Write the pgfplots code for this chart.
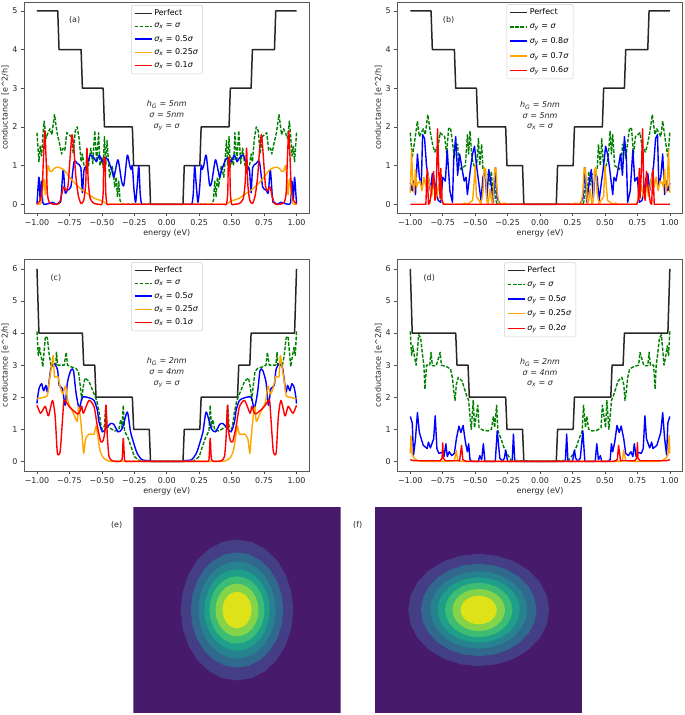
\documentclass[border=0pt]{standalone}
\usepackage{fontspec}
\setmainfont{DejaVu Sans}
\usepackage{pgfplots}
\usepackage{pgfplotstable}
\pgfplotsset{compat=1.18}

\definecolor{v0}{HTML}{481A6C}
\definecolor{v1}{HTML}{433E85}
\definecolor{v2}{HTML}{31688E}
\definecolor{v3}{HTML}{26828E}
\definecolor{v4}{HTML}{1F9E89}
\definecolor{v5}{HTML}{3DBC74}
\definecolor{v6}{HTML}{84D44B}
\definecolor{v7}{HTML}{DDE318}
\definecolor{morange}{HTML}{FFA500}
\definecolor{mgreen}{HTML}{008000}

% half curves, the other side is the mirror image
\pgfplotstableread[row sep=crcr]{x y\\-1 5\\-.84 5\\-.83 4\\-.66 4\\-.65 3\\-.49 3\\-.48 2\\-.265 2\\-.255 1\\-.135 1\\-.125 0\\0 0\\}\pA
\pgfplotstableread[row sep=crcr]{x y\\-1 6\\-.985 4\\-.65 4\\-.64 3\\-.555 3\\-.545 2\\-.265 2\\-.255 1\\-.135 1\\-.125 0\\0 0\\}\pC

\pgfplotstableread[row sep=crcr]{x y\\-1 1.85\\-.985 1.1\\-.975 1.5\\-.965 1.25\\-.955 1.75\\-.945 2.15\\-.93 1.7\\-.915 1.85\\-.9 1.95\\-.885 1.8\\-.865 2.32\\-.845 1.85\\-.825 1.55\\-.81 1.3\\-.8 1.45\\-.785 1.4\\-.77 1.85\\-.755 1.8\\-.735 1.75\\-.72 1.3\\-.705 1.9\\-.69 2\\-.675 1.7\\-.66 1.1\\-.65 1.3\\-.64 1.05\\-.63 .9\\-.615 .85\\-.6 1.05\\-.585 1.45\\-.57 1.05\\-.555 1.9\\-.54 1.1\\-.525 1.85\\-.515 1\\-.5 1.2\\-.49 .95\\-.48 1.75\\-.47 1\\-.46 1.65\\-.45 1.15\\-.44 .7\\-.42 1\\-.4 .45\\-.39 .7\\-.38 .2\\-.37 .6\\-.36 .1\\-.345 0\\-.3 0\\-.28 .01\\-.25 0\\0 0\\}\aG
\pgfplotstableread[row sep=crcr]{x y\\-1 0\\-.985 .7\\-.975 .1\\-.965 .6\\-.955 .05\\-.94 0\\-.91 .02\\-.88 .05\\-.85 0\\-.83 .05\\-.816 .1\\-.798 .9\\-.783 .3\\-.765 .37\\-.739 .45\\-.714 1.1\\-.688 1.05\\-.662 .95\\-.65 .3\\-.637 .9\\-.616 1\\-.59 1.27\\-.56 1.2\\-.542 1.1\\-.52 1.27\\-.496 1.1\\-.476 1.2\\-.453 1.15\\-.42 .85\\-.407 .7\\-.376 1.15\\-.348 .6\\-.33 .5\\-.304 1.27\\-.285 1\\-.274 .9\\-.265 1\\-.253 .4\\-.24 .05\\-.225 .6\\-.215 1\\-.205 .3\\-.195 .02\\-.18 0\\-.16 0\\-.12 0\\-.06 0\\0 0\\}\aB
\pgfplotstableread[row sep=crcr]{x y\\-1 0\\-.97 .02\\-.96 .3\\-.945 .65\\-.935 .25\\-.925 .7\\-.915 1\\-.9 .85\\-.885 .85\\-.87 .92\\-.85 .96\\-.82 .94\\-.79 .88\\-.76 .75\\-.73 .62\\-.7 .52\\-.67 .42\\-.64 .34\\-.6 .25\\-.56 .16\\-.52 .11\\-.49 .08\\-.47 .02\\-.45 0\\-.43 0\\-.39 0\\-.3 0\\-.15 0\\0 0\\}\aO
\pgfplotstableread[row sep=crcr]{x y\\-1 .02\\-.975 .1\\-.96 .4\\-.95 1.2\\-.94 1.9\\-.93 1.2\\-.92 .3\\-.905 .05\\-.87 0\\-.83 .02\\-.81 .25\\-.795 .45\\-.775 .35\\-.76 .5\\-.745 1.2\\-.73 1.8\\-.715 1.4\\-.7 .7\\-.68 .2\\-.66 .02\\-.64 .1\\-.625 .5\\-.615 1.45\\-.605 .6\\-.59 .15\\-.56 .02\\-.52 0\\-.5 0\\-.49 .3\\-.485 1.15\\-.475 1.15\\-.47 .3\\-.46 0\\-.44 0\\-.4 0\\-.3 0\\-.15 0\\0 0\\}\aR

\pgfplotstableread[row sep=crcr]{x y\\-1 1.85\\-.985 1.2\\-.97 1.55\\-.955 1.9\\-.945 2.15\\-.93 1.75\\-.915 1.85\\-.9 1.95\\-.885 1.8\\-.865 2.32\\-.845 1.85\\-.825 1.5\\-.81 1.35\\-.8 1.45\\-.785 1.5\\-.77 1.85\\-.755 1.8\\-.735 1.75\\-.72 1.3\\-.705 1.95\\-.69 1.98\\-.675 1.6\\-.66 1.2\\-.65 1.5\\-.635 1.55\\-.625 1\\-.61 .9\\-.595 .95\\-.575 1\\-.56 1.8\\-.55 1.3\\-.54 1.9\\-.525 1.2\\-.51 1\\-.49 .95\\-.475 1.7\\-.465 1\\-.45 1.55\\-.44 .9\\-.425 .85\\-.41 .8\\-.395 .75\\-.385 .5\\-.375 .85\\-.365 .3\\-.35 .6\\-.34 .1\\-.33 0\\0 0\\}\bG
\pgfplotstableread[row sep=crcr]{x y\\-1 .55\\-.985 .35\\-.975 .6\\-.96 .25\\-.945 1.3\\-.93 .7\\-.915 .5\\-.905 1.8\\-.89 1.7\\-.875 1\\-.86 .7\\-.845 .35\\-.83 .8\\-.815 .65\\-.8 .3\\-.785 .1\\-.765 .05\\-.75 .7\\-.73 .6\\-.715 1.4\\-.695 .35\\-.675 .05\\-.665 1.2\\-.65 1.75\\-.635 .75\\-.62 1.3\\-.6 .9\\-.585 .6\\-.57 .7\\-.56 .25\\-.535 .95\\-.52 1.3\\-.505 1.5\\-.49 1\\-.47 .5\\-.455 .1\\-.44 .7\\-.425 .85\\-.41 .15\\-.395 .9\\-.38 .6\\-.36 .05\\-.345 .95\\-.33 .15\\-.31 .02\\-.29 0\\0 0\\}\bB
\pgfplotstableread[row sep=crcr]{x y\\-1 .3\\-.99 1.4\\-.98 .5\\-.97 .3\\-.96 .9\\-.95 .45\\-.94 .55\\-.925 .6\\-.91 .35\\-.895 .7\\-.88 .45\\-.87 .85\\-.85 .5\\-.835 .2\\-.82 .6\\-.8 .15\\-.78 .5\\-.765 .15\\-.75 .05\\-.74 0\\-.6 0\\-.58 .03\\-.56 0\\-.52 .1\\-.51 .5\\-.5 1\\-.49 .2\\-.47 .1\\-.455 0\\-.44 .3\\-.43 .95\\-.42 .9\\-.41 .1\\-.4 0\\-.385 .4\\-.375 .1\\-.365 0\\-.35 .9\\-.34 .95\\-.33 .3\\-.315 0\\-.27 .03\\-.25 0\\0 0\\}\bO
\pgfplotstableread[row sep=crcr]{x y\\-1 0\\-.88 0\\-.87 .9\\-.86 0\\-.85 .03\\-.83 .5\\-.82 .85\\-.81 .1\\-.8 .3\\-.79 1.95\\-.78 .8\\-.77 .15\\-.765 .93\\-.755 .1\\-.745 0\\0 0\\}\bR

\pgfplotstableread[row sep=crcr]{x y\\-1 4.05\\-.99 3.3\\-.98 3.55\\-.965 3.2\\-.955 2.95\\-.935 3.9\\-.92 3.85\\-.905 3.3\\-.89 2.95\\-.875 3\\-.865 3.05\\-.855 3\\-.85 3.4\\-.84 3\\-.82 3\\-.79 3\\-.775 3.4\\-.765 3\\-.74 2.95\\-.7 2.9\\-.68 2.8\\-.665 2.3\\-.655 1.9\\-.645 2.3\\-.63 2.6\\-.6 2.5\\-.57 2.2\\-.54 1.9\\-.52 1.5\\-.51 1.2\\-.5 1\\-.48 1.1\\-.47 1.75\\-.46 1.1\\-.445 1.05\\-.4 .95\\-.37 .97\\-.355 1.3\\-.345 1.05\\-.335 1.75\\-.325 .95\\-.3 .75\\-.27 .4\\-.25 .15\\-.22 .05\\-.2 0\\0 0\\}\cG
\pgfplotstableread[row sep=crcr]{x y\\-1 1.8\\-.995 2\\-.982 2.3\\-.964 2.42\\-.949 2.2\\-.931 2.37\\-.918 2.16\\-.893 2.9\\-.867 3.05\\-.841 2.84\\-.829 2.37\\-.803 2.27\\-.783 1.75\\-.765 2.47\\-.739 2.84\\-.719 2.84\\-.7 2.16\\-.675 1.65\\-.65 2\\-.598 1.98\\-.56 1.9\\-.535 1.6\\-.522 1.23\\-.496 .92\\-.47 1.02\\-.432 1.18\\-.407 1.15\\-.376 .92\\-.343 1.02\\-.304 1.54\\-.279 .92\\-.253 .55\\-.228 .25\\-.19 .05\\-.13 .02\\-.11 0\\-.08 0\\-.04 0\\0 0\\}\cB
\pgfplotstableread[row sep=crcr]{x y\\-1 1.95\\-.95 2\\-.92 2.05\\-.905 2.5\\-.89 2.9\\-.875 3.3\\-.865 2.65\\-.84 2.65\\-.82 2.3\\-.8 2.1\\-.78 2.35\\-.76 1.85\\-.72 1.5\\-.69 1.25\\-.68 1.7\\-.665 1.35\\-.65 .7\\-.64 .25\\-.625 .7\\-.6 .85\\-.56 .85\\-.545 1.1\\-.53 .75\\-.515 .35\\-.49 .12\\-.46 .03\\-.43 0\\-.4 0\\-.32 0\\-.16 0\\0 0\\}\cO
\pgfplotstableread[row sep=crcr]{x y\\-1 1.75\\-.974 1.5\\-.955 1.6\\-.936 1.72\\-.92 1.5\\-.91 1.42\\-.88 1.9\\-.86 1.4\\-.845 .35\\-.836 .2\\-.82 .35\\-.8 1.5\\-.79 1.92\\-.75 1.7\\-.688 1.48\\-.67 1.55\\-.655 1.72\\-.642 1.5\\-.6 1.9\\-.56 1.7\\-.535 1.1\\-.509 .62\\-.49 .65\\-.475 1\\-.468 1.75\\-.458 .8\\-.445 .15\\-.42 .02\\-.38 0\\-.345 .05\\-.335 .72\\-.325 .05\\-.31 0\\-.28 0\\-.22 0\\-.1 0\\0 0\\}\cR

\pgfplotstableread[row sep=crcr]{x y\\-1 4.05\\-.99 3.3\\-.98 3.6\\-.965 3.2\\-.955 3\\-.935 3.95\\-.92 3.85\\-.905 3.3\\-.895 3\\-.887 2.25\\-.875 3\\-.85 3\\-.84 3.4\\-.83 2.98\\-.8 2.98\\-.77 3.4\\-.76 3\\-.72 2.95\\-.69 2.88\\-.675 2.6\\-.665 2.2\\-.655 1.9\\-.645 2.4\\-.63 2.62\\-.6 2.5\\-.57 2.1\\-.55 1.9\\-.54 1.4\\-.53 1\\-.515 1.9\\-.505 1.05\\-.48 1.75\\-.47 1.05\\-.44 .97\\-.4 .95\\-.375 1\\-.36 1.4\\-.35 1.05\\-.335 1.75\\-.325 .95\\-.3 .7\\-.28 .45\\-.25 .2\\-.22 .03\\0 0\\}\dG
\pgfplotstableread[row sep=crcr]{x y\\-1 1.4\\-.985 1.2\\-.975 .2\\-.96 .7\\-.945 1.52\\-.93 .9\\-.9 .5\\-.87 .4\\-.86 .6\\-.845 .42\\-.82 .7\\-.808 1.42\\-.795 .4\\-.78 .25\\-.755 .28\\-.74 .15\\-.726 .55\\-.715 .15\\-.7 .3\\-.68 .18\\-.66 .25\\-.645 .7\\-.625 1.1\\-.61 .9\\-.593 1.12\\-.575 .6\\-.56 .3\\-.55 .55\\-.54 .05\\-.52 0\\-.475 0\\-.465 .18\\-.45 .05\\-.437 .55\\-.425 0\\-.345 0\\-.33 .95\\-.31 .1\\-.29 0\\-.275 .1\\-.265 .35\\-.25 0\\-.215 0\\-.205 .85\\-.195 0\\0 0\\}\dB
\pgfplotstableread[row sep=crcr]{x y\\-1 .25\\-.995 .8\\-.985 .2\\-.97 .1\\-.94 .02\\-.9 0\\-.72 0\\-.66 .02\\-.645 .35\\-.635 .03\\-.62 0\\0 0\\}\dO
\pgfplotstableread[row sep=crcr]{x y\\-1 .05\\-.97 .02\\-.9 .02\\-.77 .02\\-.755 .1\\-.75 .58\\-.745 .1\\-.73 .02\\-.62 .02\\-.605 .5\\-.595 .05\\-.57 0\\0 0\\}\dR

% unit ring for the contour bands
\pgfplotstableread[row sep=crcr]{c s\\1 0\\.9659 .2588\\.866 .5\\.7071 .7071\\.5 .866\\.2588 .9659\\0 1\\-.2588 .9659\\-.5 .866\\-.7071 .7071\\-.866 .5\\-.9659 .2588\\-1 0\\-.9659 -.2588\\-.866 -.5\\-.7071 -.7071\\-.5 -.866\\-.2588 -.9659\\0 -1\\.2588 -.9659\\.5 -.866\\.7071 -.7071\\.866 -.5\\.9659 -.2588\\1 0\\}\ring

\newcommand\mir[3]{%
  \addlegendimage{#1}\addlegendentry{#3}
  \addplot[#1,forget plot] table[x=x,y=y]{#2};
  \addplot[#1,forget plot] table[x expr=-\thisrow{x},y=y]{#2};}
\newcommand\blob[3]{\addplot[fill=#1,draw=none] table[x expr=#2*\thisrow{c},y expr=#3*\thisrow{s}]{\ring};}
\newcommand\sg{\textit{σ}}
\newcommand\sx{\textit{σ\textsubscript{x}}}
\newcommand\sy{\textit{σ\textsubscript{y}}}

\pgfplotsset{
  cond/.style={
    scale only axis, width=285.5bp, height=211bp,
    xmin=-1.1, xmax=1.1,
    xtick={-1,-.75,-.5,-.25,0,.25,.5,.75,1},
    xticklabels={−1.00,−0.75,−0.50,−0.25,0.00,0.25,0.50,0.75,1.00},
    xlabel={energy (eV)}, ylabel={conductance [e\textasciicircum 2/h]},
    tick align=outside, tick pos=left, major tick length=3bp,
    every tick/.style={black!70,line width=.6bp},
    axis line style={black!65,line width=.7bp},
    tick label style={font=\fontsize{8}{9.6}\selectfont,text=black!85},
    label style={font=\fontsize{8}{9.6}\selectfont,text=black!85},
    xlabel style={yshift=3bp}, ylabel style={yshift=-3bp},
    legend cell align=left,
    legend style={font=\fontsize{8}{9.6}\selectfont,draw=black!18,line width=.5bp,
      rounded corners=1.5pt,anchor=north west,inner sep=2.5bp},
    clip=false,
  },
  lk/.style={color=black!85,line width=1.5bp,line join=round},
  lg/.style={color=mgreen,line width=1.4bp,line join=round,dash pattern=on 3.6bp off 1.6bp},
  lb/.style={color=blue,line width=1.4bp,line join=round},
  lo/.style={color=morange,line width=1.4bp,line join=round},
  lr/.style={color=red,line width=1.4bp,line join=round},
  sb/.style={lb,smooth,tension=.4},
  so/.style={lo,smooth,tension=.4},
  sr/.style={lr,smooth,tension=.4},
  blobax/.style={scale only axis,width=207.4bp,height=206.6bp,hide axis,
    xmin=-103.7,xmax=103.7,ymin=-103.3,ymax=103.3,clip=true},
}

\begin{document}
\begin{tikzpicture}[x=1bp,y=1bp]
\path[use as bounding box] (0,0) rectangle (685,715);

\begin{axis}[cond,at={(24bp,502bp)},anchor=south west,ymin=-.225,ymax=5.23,
  ytick={0,...,5},yticklabels={0,1,2,3,4,5},
  legend style={at={(.375,.985)},row sep=2bp}]
\mir{lk}{\pA}{Perfect}
\mir{lg}{\aG}{\sx{} = \sg}
\mir{sb}{\aB}{\sx{} = 0.5\sg}
\mir{so}{\aO}{\sx{} = 0.25\sg}
\mir{sr}{\aR}{\sx{} = 0.1\sg}
\node[font=\fontsize{8}{9.6}\selectfont,text=black!85] at (axis cs:-.71,4.77) {(a)};
\node[font=\fontsize{8}{10.7}\selectfont,text=black!85,align=center] at (axis cs:0,2.29) {\textit{h\textsubscript{G} = 5nm}\\\sg{} = \textit{5nm}\\\sy{} = \sg};
\end{axis}

\begin{axis}[cond,at={(397.3bp,502bp)},anchor=south west,ymin=-.225,ymax=5.23,
  ytick={0,...,5},yticklabels={0,1,2,3,4,5},
  legend style={at={(.3825,.99)},row sep=3.5bp}]
\mir{lk}{\pA}{Perfect}
\mir{lg}{\bG}{\sy{} = \sg}
\mir{lb}{\bB}{\sy{} = 0.8\sg}
\mir{lo}{\bO}{\sy{} = 0.7\sg}
\mir{lr}{\bR}{\sy{} = 0.6\sg}
\node[font=\fontsize{8}{9.6}\selectfont,text=black!85] at (axis cs:-.705,4.77) {(b)};
\node[font=\fontsize{8}{10.7}\selectfont,text=black!85,align=center] at (axis cs:0,2.29) {\textit{h\textsubscript{G} = 5nm}\\\sg{} = \textit{5nm}\\\sx{} = \sg};
\end{axis}

\begin{axis}[cond,at={(24bp,244bp)},anchor=south west,height=211.7bp,ymin=-.3,ymax=6.3,
  ytick={0,...,6},yticklabels={0,1,2,3,4,5,6},
  legend style={at={(.375,.987)},row sep=2bp}]
\mir{lk}{\pC}{Perfect}
\mir{lg}{\cG}{\sx{} = \sg}
\mir{sb}{\cB}{\sx{} = 0.5\sg}
\mir{so}{\cO}{\sx{} = 0.25\sg}
\mir{sr}{\cR}{\sx{} = 0.1\sg}
\node[font=\fontsize{8}{9.6}\selectfont,text=black!85] at (axis cs:-.854,5.72) {(c)};
\node[font=\fontsize{8}{10.7}\selectfont,text=black!85,align=center] at (axis cs:0,2.77) {\textit{h\textsubscript{G} = 2nm}\\\sg{} = \textit{4nm}\\\sy{} = \sg};
\end{axis}

\begin{axis}[cond,at={(397.3bp,244bp)},anchor=south west,height=211.7bp,ymin=-.3,ymax=6.3,
  ytick={0,...,6},yticklabels={0,1,2,3,4,5,6},
  legend style={at={(.3745,.987)},row sep=3.5bp}]
\mir{lk}{\pC}{Perfect}
\mir{lg}{\dG}{\sy{} = \sg}
\mir{lb}{\dB}{\sy{} = 0.5\sg}
\mir{lo}{\dO}{\sy{} = 0.25\sg}
\mir{lr}{\dR}{\sy{} = 0.2\sg}
\node[font=\fontsize{8}{9.6}\selectfont,text=black!85] at (axis cs:-.854,5.72) {(d)};
\node[font=\fontsize{8}{10.7}\selectfont,text=black!85,align=center] at (axis cs:0,2.77) {\textit{h\textsubscript{G} = 2nm}\\\sg{} = \textit{4nm}\\\sx{} = \sg};
\end{axis}

\begin{axis}[blobax,at={(133.3bp,1.7bp)},anchor=south west]
\addplot[fill=v0,draw=none] coordinates {(-103.7,-103.3) (103.7,-103.3) (103.7,103.3) (-103.7,103.3)};
\blob{v1}{56.3}{70.5}
\blob{v2}{46.2}{57.7}
\blob{v3}{38.7}{48.7}
\blob{v4}{32.7}{40.8}
\blob{v5}{27.5}{33.7}
\blob{v6}{21.5}{26.3}
\blob{v7}{14.5}{18.2}
\end{axis}

\begin{axis}[blobax,at={(375bp,1.7bp)},anchor=south west]
\addplot[fill=v0,draw=none] coordinates {(-103.7,-103.3) (103.7,-103.3) (103.7,103.3) (-103.7,103.3)};
\blob{v1}{70.5}{56.2}
\blob{v2}{57.8}{46.2}
\blob{v3}{48.5}{38.7}
\blob{v4}{41.2}{32.7}
\blob{v5}{33.7}{27.2}
\blob{v6}{26.3}{21}
\blob{v7}{18}{14.3}
\end{axis}

\node[font=\fontsize{8}{9.6}\selectfont,text=black!85] at (116.7,190) {(e)};
\node[font=\fontsize{8}{9.6}\selectfont,text=black!85] at (357.7,190) {(f)};
\end{tikzpicture}
\end{document}
